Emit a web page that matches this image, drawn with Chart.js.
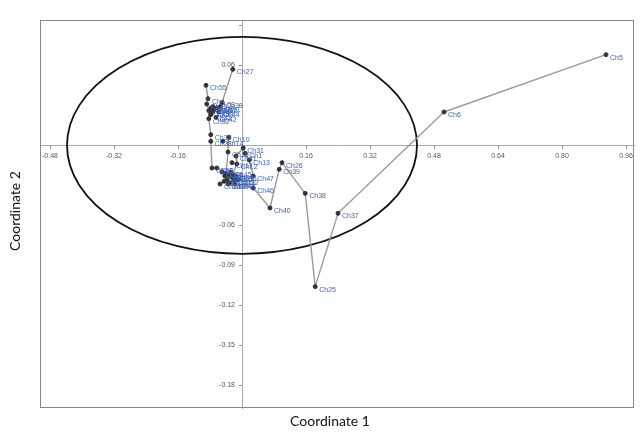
<!DOCTYPE html>
<html>
<head>
<meta charset="utf-8">
<script src="https://cdn.jsdelivr.net/npm/chart.js@4/dist/chart.umd.min.js"></script>
<style>
  html, body { margin: 0; padding: 0; background: #fff; }
  #wrap { width: 643px; height: 432px; }
</style>
</head>
<body>
<div id="wrap"><canvas id="pcoChart" width="643" height="432"></canvas></div>
<script>
// Nama titik dan koordinatnya (Coordinate 1, Coordinate 2)
const names = ['Ch5', 'Ch6', 'Ch37', 'Ch25', 'Ch38', 'Ch26', 'Ch39', 'Ch40', 'Ch46', 'Ch47', 'Ch13', 'Ch1', 'Ch31', 'Ch27',
  'Ch55', 'Ch4', 'Ch11', 'Ch30', 'Ch20', 'Ch29', 'Ch21', 'Ch44', 'Ch42', 'Ch9', 'Ch16', 'Ch50', 'Ch51', 'Ch53', 'Ch52',
  'Ch34', 'Ch28', 'Ch10', 'Ch14',
  'Ch19', 'Ch41', 'Ch12', 'Ch17', 'Ch33', 'Ch3', 'Ch23',
  'Ch7', 'Ch8', 'Ch15', 'Ch18', 'Ch22', 'Ch24', 'Ch35', 'Ch43', 'Ch45', 'Ch48', 'Ch49', 'Ch54', 'Ch2', 'Ch32', 'Ch36'];
const coord1 = [0.910, 0.505, 0.240, 0.183, 0.158, 0.100, 0.093, 0.070, 0.028, 0.028, 0.018, 0.008, 0.003, -0.023,
  -0.090, -0.085, -0.088, -0.050, -0.073, -0.083, -0.078, -0.058, -0.065, -0.070, -0.063, -0.078, -0.055, -0.073, -0.083,
  -0.078, -0.078, -0.033, -0.048,
  -0.035, -0.015, -0.013, -0.025, -0.075, -0.063, -0.055,
  -0.040, -0.033, -0.025, -0.038, -0.020, -0.030, -0.015, -0.043, -0.028, -0.018, -0.035, -0.023, -0.045, -0.010, -0.050];
const coord2 = [0.068, 0.025, -0.051, -0.106, -0.036, -0.013, -0.018, -0.047, -0.032, -0.023, -0.011, -0.006, -0.002, 0.057,
  0.045, 0.035, 0.031, 0.032, 0.029, 0.026, 0.023, 0.025, 0.021, 0.027, 0.028, 0.028, 0.029, 0.025, 0.020,
  0.008, 0.003, 0.006, 0.003,
  -0.005, -0.008, -0.014, -0.013, -0.017, -0.017, -0.029,
  -0.021, -0.023, -0.024, -0.026, -0.026, -0.028, -0.023, -0.023, -0.020, -0.029, -0.029, -0.022, -0.027, -0.026, -0.020];

// Garis penghubung (pasangan nama titik)
const links = [
  ['Ch5', 'Ch6'], ['Ch6', 'Ch37'], ['Ch37', 'Ch25'], ['Ch25', 'Ch38'], ['Ch38', 'Ch26'], ['Ch26', 'Ch39'],
  ['Ch39', 'Ch40'], ['Ch40', 'Ch46'], ['Ch46', 'Ch47'], ['Ch47', 'Ch13'], ['Ch13', 'Ch1'], ['Ch1', 'Ch31'],
  ['Ch31', 'Ch41'], ['Ch41', 'Ch12'], ['Ch12', 'Ch54'], ['Ch27', 'Ch30'], ['Ch30', 'Ch51'],
  ['Ch55', 'Ch4'], ['Ch4', 'Ch11'], ['Ch11', 'Ch29'], ['Ch29', 'Ch52'], ['Ch52', 'Ch34'], ['Ch34', 'Ch28'],
  ['Ch28', 'Ch33'], ['Ch33', 'Ch3'], ['Ch3', 'Ch36'], ['Ch10', 'Ch19'], ['Ch19', 'Ch7'], ['Ch2', 'Ch23']
];

// Label sumbu
const xTickLabels = [-0.48, -0.32, -0.16, 0.16, 0.32, 0.48, 0.64, 0.80, 0.96];
const yTickLabels = [0.06, 0.03, -0.06, -0.09, -0.12, -0.15, -0.18];
const xTitle = 'Coordinate 1';
const yTitle = 'Coordinate 2';

// Elips (pusat dan jari-jari dalam satuan data)
const ellipseCenter = [0, 0];
const ellipseRadius = [0.4375, 0.0814];

const points = names.map((n, i) => ({ x: coord1[i], y: coord2[i] }));
const linkData = [];
links.forEach(([a, b]) => {
  const ia = names.indexOf(a), ib = names.indexOf(b);
  linkData.push({ x: coord1[ia], y: coord2[ia] });
  linkData.push({ x: coord1[ib], y: coord2[ib] });
  linkData.push({ x: null, y: null });
});

const hasTick = (list, v) => list.some(t => Math.abs(t - v) < 1e-6);

// Plugin: bingkai, elips, label titik, judul sumbu
const decorPlugin = {
  id: 'decor',
  beforeDatasetsDraw(chart) {
    const { ctx, chartArea: a, scales: { x, y } } = chart;
    ctx.save();
    ctx.beginPath();
    ctx.rect(a.left, a.top, a.right - a.left, a.bottom - a.top);
    ctx.clip();
    const cx = x.getPixelForValue(ellipseCenter[0]);
    const cy = y.getPixelForValue(ellipseCenter[1]);
    const rx = x.getPixelForValue(ellipseCenter[0] + ellipseRadius[0]) - cx;
    const ry = cy - y.getPixelForValue(ellipseCenter[1] + ellipseRadius[1]);
    ctx.beginPath();
    ctx.ellipse(cx, cy, rx, ry, 0, 0, Math.PI * 2);
    ctx.strokeStyle = '#111';
    ctx.lineWidth = 1.8;
    ctx.stroke();
    ctx.restore();
  },
  afterDatasetsDraw(chart) {
    const { ctx, chartArea: a } = chart;
    ctx.save();
    // label titik
    const meta = chart.getDatasetMeta(0);
    ctx.font = '7px "Liberation Sans"';
    ctx.fillStyle = '#3f63b8';
    ctx.textBaseline = 'middle';
    ctx.textAlign = 'left';
    meta.data.forEach((el, i) => {
      ctx.fillText(names[i], el.x + 4, el.y + 3);
    });
    // bingkai
    ctx.strokeStyle = '#888';
    ctx.lineWidth = 1;
    ctx.strokeRect(a.left + 0.5, a.top + 0.5, a.right - a.left - 1, a.bottom - a.top - 1);
    // judul sumbu
    ctx.fillStyle = '#111';
    ctx.font = '14px Lato';
    ctx.textAlign = 'center';
    ctx.textBaseline = 'middle';
    ctx.fillText(xTitle, 330, 421);
    ctx.translate(15, 211);
    ctx.rotate(-Math.PI / 2);
    ctx.fillText(yTitle, 0, 0);
    ctx.restore();
  }
};

const ctx = document.getElementById('pcoChart').getContext('2d');
new Chart(ctx, {
  type: 'scatter',
  data: {
    datasets: [
      {
        label: 'Titik',
        data: points,
        backgroundColor: '#333',
        borderColor: '#333',
        pointRadius: 2,
        order: 0
      },
      {
        label: 'Garis',
        data: linkData,
        showLine: true,
        spanGaps: false,
        borderColor: '#9a9a9a',
        borderWidth: 1.4,
        pointRadius: 0,
        order: 1
      }
    ]
  },
  options: {
    responsive: false,
    animation: false,
    layout: { padding: { left: 40, top: 20, right: 9, bottom: 24 } },
    plugins: {
      legend: { display: false },
      tooltip: { enabled: false },
      title: { display: false }
    },
    scales: {
      x: {
        type: 'linear',
        min: -0.505,
        max: 0.98,
        position: { y: 0 },
        border: { color: '#aaa', width: 1 },
        grid: { drawOnChartArea: false, tickLength: 3, color: '#999' },
        ticks: {
          stepSize: 0.16,
          includeBounds: false,
          maxRotation: 0,
          autoSkip: false,
          padding: 4,
          color: '#555',
          font: { family: 'Liberation Sans', size: 7 },
          callback: v => hasTick(xTickLabels, v) ? v.toFixed(2) : ''
        }
      },
      y: {
        type: 'linear',
        min: -0.197,
        max: 0.094,
        position: { x: 0 },
        border: { color: '#aaa', width: 1 },
        grid: { drawOnChartArea: false, tickLength: 3, color: '#999' },
        ticks: {
          stepSize: 0.03,
          includeBounds: false,
          autoSkip: false,
          color: '#555',
          font: { family: 'Liberation Sans', size: 7 },
          // spasi di akhir agar label tidak menempel pada garis sumbu
          callback: v => hasTick(yTickLabels, v) ? v.toFixed(2) + '\u2002\u2002' : ''
        }
      }
    }
  },
  plugins: [decorPlugin]
});
</script>
</body>
</html>
